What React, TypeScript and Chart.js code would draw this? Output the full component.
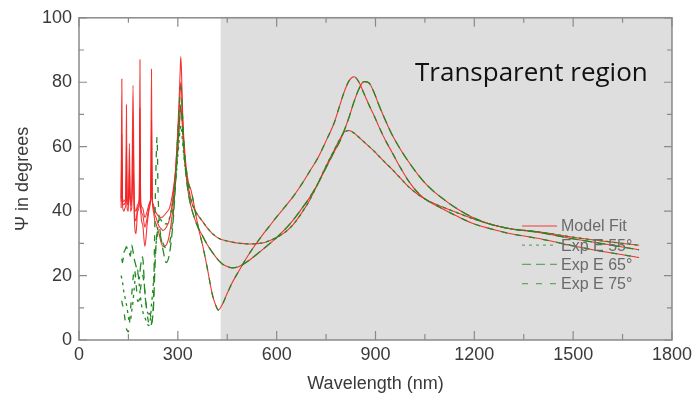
import React, { useEffect, useRef } from "react";
import { Chart, registerables } from "chart.js";

Chart.register(...registerables);

// ---- Data ----
const wavelength = [
  128, 130, 132, 136, 140, 142, 144, 146, 150, 153,
  156, 160, 164, 168, 173, 178, 183, 185, 187, 193,
  200, 207, 212, 216, 218, 220, 222, 226, 230, 234,
  237, 240, 245, 250, 255, 265, 275, 285, 293, 299,
  304, 307, 309, 311, 314, 318, 324, 332, 340, 350,
  362, 375, 390, 405, 415, 423, 435, 450, 465, 480,
  500, 520, 540, 560, 580, 600, 625, 650, 675, 700,
  725, 750, 775, 790, 805, 820, 835, 850, 865, 880,
  895, 910, 930, 950, 975, 1000, 1030, 1060, 1100, 1150,
  1200, 1250, 1300, 1400, 1500, 1600, 1700,
];

const fit55 = [
  44, 56, 44, 43, 43.5, 44, 52, 44, 43, 48,
  43, 43, 53, 42, 40, 42, 44, 59, 43, 41,
  38, 40, 42, 43, 44, 56, 44, 42, 40.5, 39.5,
  39, 38.6, 38.2, 38, 38.3, 39.5, 41, 46, 52, 58,
  65, 70, 72.5, 71, 66, 59.5, 53, 47.5, 43.5, 40.6,
  38.6, 36.8, 34.7, 33, 32.2, 31.6, 31.1, 30.7, 30.4, 30.1,
  29.9, 29.8, 29.9, 30.2, 30.9, 31.8, 33.4, 35.8, 39.3, 43.4,
  48.5, 54, 59, 62, 64.5, 65, 64.2, 62.9, 61.5, 60.1,
  58.7, 57.1, 55, 53, 50.3, 47.6, 45.1, 43.2, 41.4, 39.4,
  37.5, 35.9, 34.7, 33.5, 31.9, 30.6, 29.4,
];

const fit65 = [
  43, 64, 43, 42, 42.5, 43, 60, 43, 42, 53,
  42, 42, 65, 40, 37, 41, 43, 72, 42, 39,
  35, 38, 41, 43, 45, 68, 45, 41, 39, 38,
  37, 36, 35, 34.5, 34, 35, 37.5, 44, 53, 62,
  71, 77, 80, 78, 70, 61, 52.5, 45.5, 41.5, 38,
  34.8, 32.3, 29.5, 27.2, 25.8, 24.8, 23.6, 22.8, 22.4, 22.6,
  23.6, 25, 26.6, 28.3, 30, 31.8, 34.3, 37.2, 40.6, 44.2,
  48.5, 53.5, 58.5, 61.3, 65, 69.2, 74, 78, 80.2, 79.8,
  77, 73, 68.2, 63.8, 59.3, 55.4, 51.2, 47.7, 44.2, 40.6,
  37.8, 35.9, 34.7, 33.3, 31.4, 29.7, 28,
];

const fit75 = [
  41, 81, 42, 40, 41, 42, 73, 41, 40, 61,
  40, 41, 79, 38, 33, 40, 42, 87, 41, 36,
  29, 36, 40, 42, 45, 84, 46, 40, 37, 36,
  35, 34, 32, 30, 29, 29.5, 33, 41, 52, 63,
  75, 83, 88, 84, 72, 63, 55, 49, 46.5, 41.5,
  35, 29.5, 22, 14, 10.8, 9.3, 11, 14.5, 17.8, 20.5,
  24, 27.3, 30.2, 33, 35.6, 38.2, 41.3, 44.5, 48.2, 52.3,
  56.5, 61.8, 67.5, 72.3, 77, 80.5, 81.7, 80, 76.5, 73,
  69.8, 66.3, 62, 58.3, 53.6, 49.4, 45.6, 43.1, 40.9, 38.3,
  36, 34.5, 33.2, 31.4, 29.2, 27.3, 25.6,
];

const exp55 = [
  20, 19, 18, 15, 13, 12, 11, 10, 7, 6,
  6, 9, 12, 16.5, 21, 21.7, 17, 15, 13, 9,
  7, 5, 4.5, 6, 8, 11, 13, 18, 25, 30,
  32, 36, 38, 37, 36.5, 36, 38, 43, 49, 56,
  62, 65.5, 66.5, 65.5, 62, 57.5, 52.5, 47.5, 43.5, 40.6,
  38.6, 36.8, 34.7, 33, 32.2, 31.6, 31.1, 30.7, 30.4, 30.1,
  29.9, 29.8, 29.9, 30.2, 30.9, 31.8, 33.4, 35.8, 39.3, 43.4,
  48.5, 54, 59, 62, 64.5, 65, 64.2, 62.9, 61.5, 60.1,
  58.7, 57.1, 55, 53, 50.3, 47.6, 45.1, 43.2, 41.4, 39.4,
  37.5, 35.9, 34.7, 33.5, 31.9, 30.6, 29.4,
];

const exp65 = [
  25, 25, 24, 27, 28, 28.5, 29, 28.5, 28, 27,
  26, 29.4, 27.5, 25, 23, 21, 19, 21, 23, 25.8,
  14.5, 9, 8, 8.3, 7, 5.2, 6, 10, 21, 30,
  33, 34, 33, 31, 28, 24, 27, 36, 48, 58,
  67, 71, 73, 72, 66, 59, 52, 45.5, 41.5, 38,
  34.8, 32.3, 29.5, 27.2, 25.8, 24.8, 23.6, 22.8, 22.4, 22.6,
  23.6, 25, 26.6, 28.3, 30, 31.8, 34.3, 37.2, 40.6, 44.2,
  48.5, 53.5, 58.5, 61.3, 65, 69.2, 74, 78, 80.2, 79.8,
  77, 73, 68.2, 63.8, 59.3, 55.4, 51.2, 47.7, 44.2, 40.6,
  37.8, 35.9, 34.7, 33.3, 31.4, 29.7, 28,
];

const exp75 = [
  12, 12, 11, 9.5, 6, 4.5, 3.5, 3, 2.5, 5,
  9, 14, 19, 22, 18, 12, 12.5, 14, 16, 20,
  15, 8, 5, 4, 4, 5, 6, 12, 35, 55,
  63, 46, 35, 32, 30, 28.5, 30, 38, 50, 62,
  72, 77, 78.5, 77, 70, 62, 54.5, 48.5, 46.5, 41.5,
  35, 29.5, 22, 14, 10.8, 9.3, 11, 14.5, 17.8, 20.5,
  24, 27.3, 30.2, 33, 35.6, 38.2, 41.3, 44.5, 48.2, 52.3,
  56.5, 61.8, 67.5, 72.3, 77, 80.5, 81.7, 80, 76.5, 73,
  69.8, 66.3, 62, 58.3, 53.6, 49.4, 45.6, 43.1, 40.9, 38.3,
  36, 34.5, 33.2, 31.4, 29.2, 27.3, 25.6,
];

const xTickValues = [0, 300, 600, 900, 1200, 1500, 1800];
const yTickValues = [0, 20, 40, 60, 80, 100];
const transparentFrom = 430; // nm, start of the shaded transparent region
const regionLabel = "Transparent region";
const modelLabel = "Model Fit";
const expLabels = ["Exp E 55°", "Exp E 65°", "Exp E 75°"];

// ---- Styles ----
const RED = "rgba(242,36,36,0.92)";
const GREEN = "#238a23";
const AXIS_GRAY = "#8a8a8a";
const TEXT = "#3a3a3a";
const FONT = "'Liberation Sans', Arial, sans-serif";

const toPoints = (ys: number[]) => wavelength.map((x, i) => ({ x, y: ys[i] }));

const decorPlugin = {
  id: "decor",
  beforeDatasetsDraw(chart: any) {
    const { ctx, chartArea: a, scales } = chart;
    const x0 = scales.x.getPixelForValue(transparentFrom);
    ctx.save();
    ctx.fillStyle = "#dedede";
    ctx.fillRect(x0, a.top - 1, a.right - x0, a.bottom - a.top + 1);
    ctx.restore();
  },
  afterDatasetsDraw(chart: any) {
    const { ctx, chartArea: a, scales } = chart;
    const xs = scales.x;
    const ys = scales.y;
    ctx.save();
    // frame
    ctx.strokeStyle = AXIS_GRAY;
    ctx.lineWidth = 1.5;
    ctx.strokeRect(a.left, a.top, a.right - a.left, a.bottom - a.top);
    // ticks
    ctx.lineWidth = 1.2;
    ctx.beginPath();
    const xt = xTickValues;
    for (let i = 0; i < xt.length; i++) {
      const px = xs.getPixelForValue(xt[i]);
      ctx.moveTo(px, a.bottom); ctx.lineTo(px, a.bottom - 9);
      ctx.moveTo(px, a.top); ctx.lineTo(px, a.top + 9);
      if (i < xt.length - 1) {
        const pm = xs.getPixelForValue((xt[i] + xt[i + 1]) / 2);
        ctx.moveTo(pm, a.bottom); ctx.lineTo(pm, a.bottom - 6);
        ctx.moveTo(pm, a.top); ctx.lineTo(pm, a.top + 5);
      }
    }
    const yt = yTickValues;
    for (let i = 0; i < yt.length; i++) {
      const py = ys.getPixelForValue(yt[i]);
      ctx.moveTo(a.left, py); ctx.lineTo(a.left + 8, py);
      ctx.moveTo(a.right, py); ctx.lineTo(a.right - 8, py);
      if (i < yt.length - 1) {
        const pm = ys.getPixelForValue((yt[i] + yt[i + 1]) / 2);
        ctx.moveTo(a.left, pm); ctx.lineTo(a.left + 5, pm);
        ctx.moveTo(a.right, pm); ctx.lineTo(a.right - 5, pm);
      }
    }
    ctx.stroke();

    // region label
    ctx.fillStyle = "#111";
    ctx.font = "26px 'Open Sans', sans-serif";
    ctx.textAlign = "left";
    ctx.textBaseline = "alphabetic";
    ctx.fillText(regionLabel, 415, 81);

    // legend
    const seen: string[] = [];
    const entries: any[] = [];
    chart.data.datasets.forEach((ds: any) => {
      if (!seen.includes(ds.label)) {
        seen.push(ds.label);
        entries.push(ds);
      }
    });
    ctx.font = `16px ${FONT}`;
    ctx.textBaseline = "middle";
    entries.forEach((ds: any, i: number) => {
      const y = 226 + i * 19.2;
      ctx.save();
      ctx.globalAlpha = 0.65;
      ctx.strokeStyle = ds.borderColor;
      ctx.lineWidth = 1.3;
      ctx.setLineDash(ds.borderDash || []);
      ctx.beginPath();
      ctx.moveTo(522, y);
      ctx.lineTo(557, y);
      ctx.stroke();
      ctx.restore();
      ctx.fillStyle = "#6a6a6a";
      ctx.fillText(ds.label, 561, y + 1);
    });
    ctx.restore();
  },
};

export default function App() {
  const canvasRef = useRef<HTMLCanvasElement | null>(null);

  useEffect(() => {
    if (!canvasRef.current) return;
    const fits = [fit55, fit65, fit75];
    const exps = [exp55, exp65, exp75];
    const dashes = [[3, 4], [9, 5], [6, 8]];
    const datasets: any[] = [];
    fits.forEach((f) =>
      datasets.push({
        label: modelLabel,
        data: toPoints(f),
        borderColor: RED,
        borderWidth: 1.1,
        pointRadius: 0,
        cubicInterpolationMode: "monotone",
        fill: false,
        order: 2,
      })
    );
    exps.forEach((e, i) =>
      datasets.push({
        label: expLabels[i],
        data: toPoints(e),
        borderColor: GREEN,
        borderWidth: 1.3,
        borderDash: dashes[i],
        pointRadius: 0,
        cubicInterpolationMode: "monotone",
        fill: false,
        order: 1,
      })
    );

    const chart = new Chart(canvasRef.current, {
      type: "line",
      data: { datasets },
      options: {
        animation: false,
        responsive: true,
        maintainAspectRatio: false,
        layout: { padding: { top: 17, right: 24, left: 0, bottom: 0 } },
        plugins: { legend: { display: false }, tooltip: { enabled: false } },
        scales: {
          x: {
            type: "linear",
            min: 0,
            max: 1800,
            afterBuildTicks: (s: any) => {
              s.ticks = xTickValues.map((value) => ({ value }));
            },
            afterFit: (s: any) => {
              s.height = 58;
            },
            grid: { display: false, drawTicks: false },
            border: { display: false },
            ticks: {
              padding: 4,
              color: TEXT,
              font: { family: FONT, size: 18 },
              maxRotation: 0,
              autoSkip: false,
              callback: (v: any) => String(v),
            },
            title: {
              display: true,
              text: "Wavelength (nm)",
              color: TEXT,
              font: { family: FONT, size: 18 },
              padding: { top: 0, bottom: 3 },
            },
          },
          y: {
            type: "linear",
            min: 0,
            max: 100,
            afterBuildTicks: (s: any) => {
              s.ticks = yTickValues.map((value) => ({ value }));
            },
            afterFit: (s: any) => {
              s.width = 79;
            },
            grid: { display: false, drawTicks: false },
            border: { display: false },
            ticks: {
              padding: 7,
              color: TEXT,
              font: { family: FONT, size: 18 },
              autoSkip: false,
              callback: (v: any) => String(v),
            },
            title: {
              display: true,
              text: "Ψ in degrees",
              color: TEXT,
              font: { family: FONT, size: 18 },
              padding: { top: 12, bottom: 0 },
            },
          },
        },
      },
      plugins: [decorPlugin],
    });
    return () => chart.destroy();
  }, []);

  return (
    <div style={{ position: "fixed", left: 0, top: 0, width: 696, height: 398, background: "#fff" }}>
      <canvas ref={canvasRef} />
    </div>
  );
}
